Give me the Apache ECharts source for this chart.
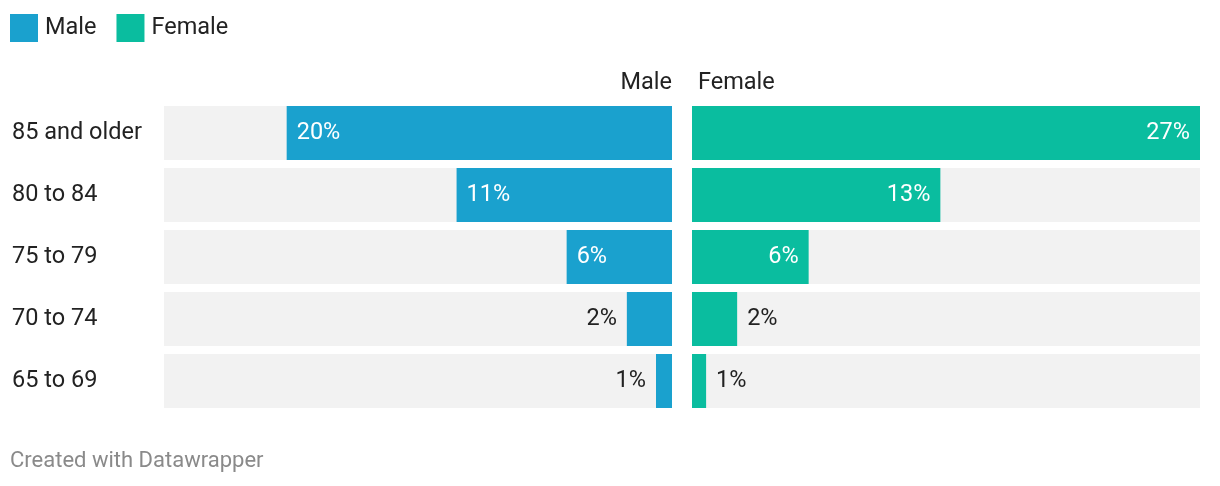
<!DOCTYPE html>
<html>
<head>
<meta charset="utf-8">
<script src="https://cdn.jsdelivr.net/npm/echarts@6/dist/echarts.min.js"></script>
<style>
html,body{margin:0;padding:0;background:#fff;}
#c{width:1220px;height:486px;}
</style>
</head>
<body>
<div id="c"></div>
<script>
var categories = ['85 and older', '80 to 84', '75 to 79', '70 to 74', '65 to 69'];
var maleValues = [20.48, 11.45, 5.6, 2.4, 0.85];
var femaleValues = [27.0, 13.2, 6.2, 2.4, 0.75];
var seriesNames = ['Male', 'Female'];

var FONT = 'Roboto, sans-serif';
var MALE_C = '#1aa1ce';
var FEMALE_C = '#0abd9f';
var SCALE_MAX = 27;

function fmt(p) { return Math.round(p.value) + '%'; }

function makeData(vals, isMale) {
  return vals.map(function (v) {
    var inside = v >= 5;
    return {
      value: v,
      label: {
        show: true,
        position: inside ? (isMale ? 'insideLeft' : 'insideRight') : (isMale ? 'left' : 'right'),
        distance: 10,
        color: inside ? '#ffffff' : '#222222',
        fontSize: 23.5,
        fontFamily: FONT,
        padding: [3, 0, 0, 0],
        formatter: fmt
      }
    };
  });
}

var chart = echarts.init(document.getElementById('c'), null, {renderer: 'canvas'});
chart.setOption({
  animation: false,
  backgroundColor: '#ffffff',
  textStyle: {fontFamily: FONT},
  legend: {
    data: seriesNames,
    left: 10, top: 14, padding: 0,
    icon: 'rect',
    itemWidth: 28, itemHeight: 28,
    itemGap: 20,
    textStyle: {fontSize: 23.5, color: '#222', fontFamily: FONT, padding: [0, 0, 4, 2]}
  },
  graphic: [
    {type: 'text', right: 1220 - 672, top: 71, style: {text: 'Male', fontSize: 23.5, fill: '#222', fontFamily: FONT}},
    {type: 'text', left: 698, top: 71, style: {text: 'Female', fontSize: 23.5, fill: '#222', fontFamily: FONT}},
    {type: 'text', left: 10, top: 450, style: {text: 'Created with Datawrapper', fontSize: 22, fill: '#8a8a8a', fontFamily: FONT}}
  ],
  grid: [
    {left: 164, width: 508, top: 102, height: 310},
    {left: 692, width: 508, top: 102, height: 310}
  ],
  xAxis: [
    {gridIndex: 0, type: 'value', min: 0, max: SCALE_MAX, inverse: true, show: false},
    {gridIndex: 1, type: 'value', min: 0, max: SCALE_MAX, show: false}
  ],
  yAxis: [
    {gridIndex: 0, type: 'category', data: categories, inverse: true,
      axisLine: {show: false}, axisTick: {show: false}, splitLine: {show: false},
      axisLabel: {align: 'left', margin: 152, fontSize: 23.5, color: '#222', fontFamily: FONT, padding: [4, 0, 0, 0]}},
    {gridIndex: 1, type: 'category', data: categories, inverse: true, show: false}
  ],
  series: [
    {name: seriesNames[0], type: 'bar', xAxisIndex: 0, yAxisIndex: 0, barWidth: 54,
      itemStyle: {color: MALE_C}, showBackground: true, backgroundStyle: {color: '#f2f2f2'},
      data: makeData(maleValues, true)},
    {name: seriesNames[1], type: 'bar', xAxisIndex: 1, yAxisIndex: 1, barWidth: 54,
      itemStyle: {color: FEMALE_C}, showBackground: true, backgroundStyle: {color: '#f2f2f2'},
      data: makeData(femaleValues, false)}
  ]
});
</script>
</body>
</html>
